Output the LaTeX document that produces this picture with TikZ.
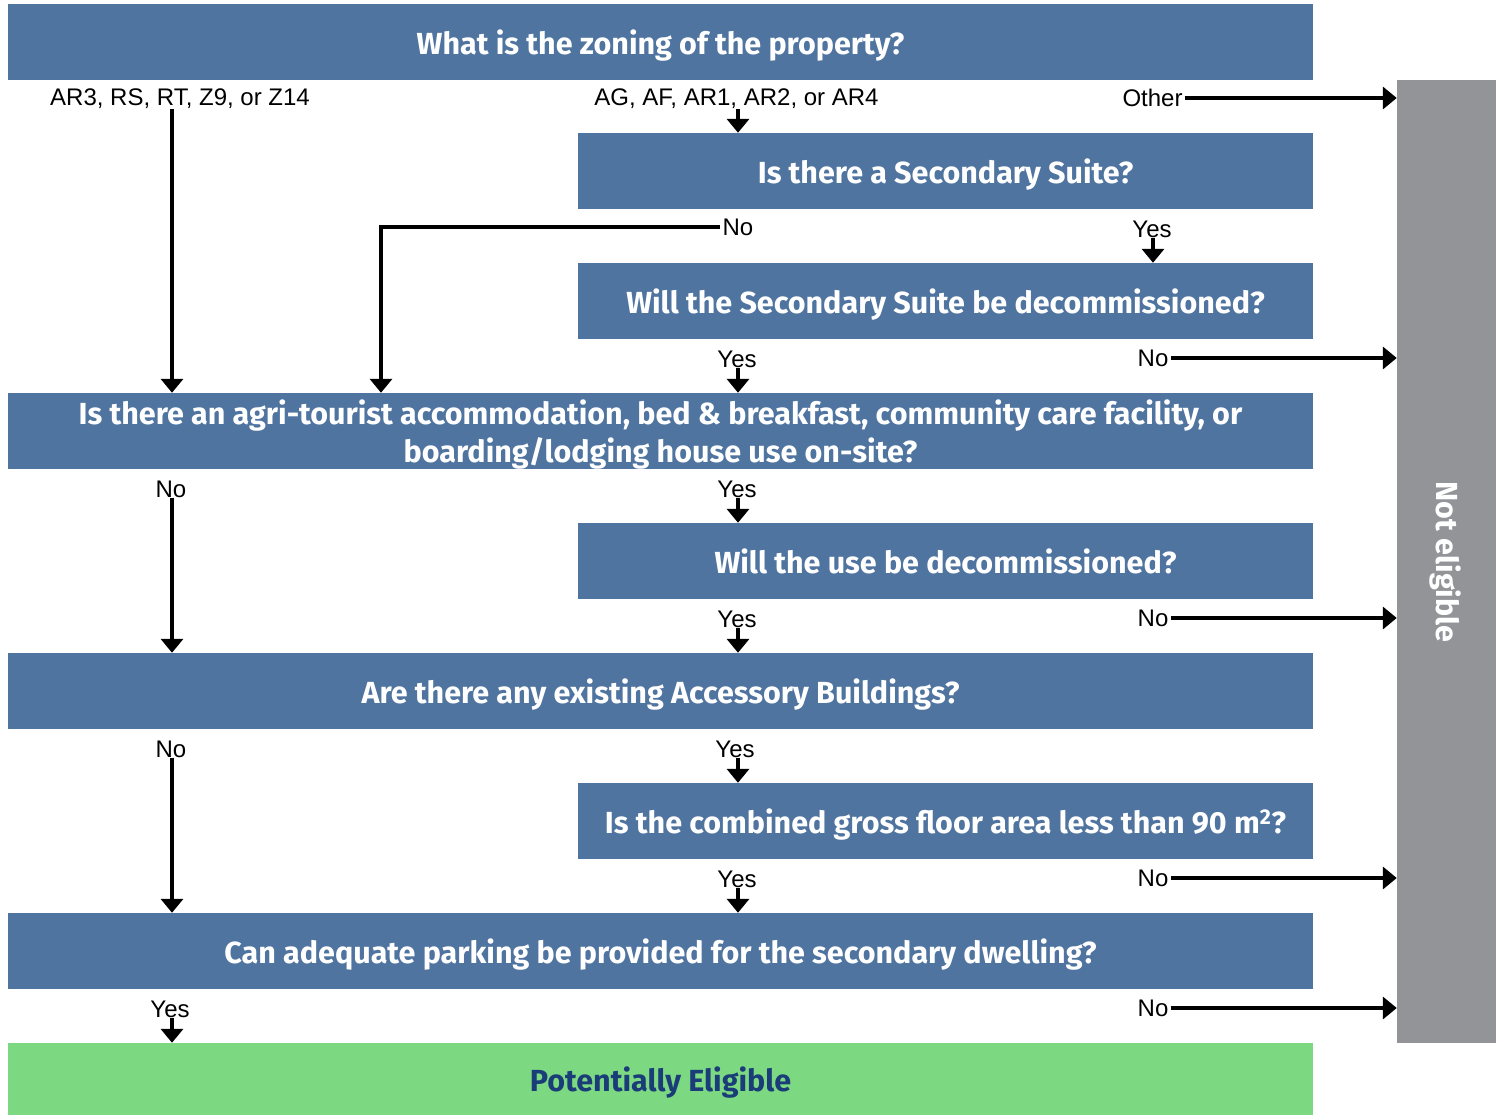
\documentclass[tikz,border=0pt]{standalone}
\usepackage{fontspec}
\setmainfont{Liberation Sans}
\newfontfamily\bfam{Fira Sans}
\usetikzlibrary{arrows.meta}
\definecolor{qblue}{HTML}{4F74A0}
\definecolor{ngray}{HTML}{939498}
\definecolor{pgreen}{HTML}{7CD982}
\definecolor{dblue}{HTML}{1A3C78}
\tikzset{
  qbox/.style={fill=qblue, draw=none, text=white, inner sep=0pt, align=center,
    font=\bfam\bfseries\fontsize{30.5}{38}\selectfont, text depth=0pt},
  longbox/.style={qbox, minimum width=1305pt, minimum height=76pt},
  shortbox/.style={qbox, minimum width=735pt, minimum height=76pt},
  lbl/.style={font=\fontsize{24}{28}\selectfont, inner ysep=0pt, inner xsep=2pt},
  arr/.style={line width=4pt, -{Triangle[width=22pt,length=14pt]}},
}
\begin{document}
\begin{tikzpicture}[x=1pt,y=-1pt]
\useasboundingbox (0,0) rectangle (1501,1115);
% boxes
\node[longbox]  (q1) at (660.5,42)  {What is the zoning of the property?};
\node[shortbox] (q2) at (945.5,171) {Is there a Secondary Suite?};
\node[shortbox] (q3) at (945.5,301) {Will the Secondary Suite be decommissioned?};
\node[longbox]  (q4) at (660.5,431) {Is there an agri-tourist accommodation, bed \& breakfast, community care facility, or\\boarding/lodging house use on-site?};
\node[shortbox] (q5) at (945.5,561) {Will the use be decommissioned?};
\node[longbox]  (q6) at (660.5,691) {Are there any existing Accessory Buildings?};
\node[shortbox] (q7) at (945.5,821) {Is the combined gross floor area less than 90 m\textsuperscript{2}?};
\node[longbox]  (q8) at (660.5,951) {Can adequate parking be provided for the secondary dwelling?};
\node[longbox, fill=pgreen, text=dblue, minimum height=72pt, text depth=-3pt] (ok) at (660.5,1079) {Potentially Eligible};
\node[qbox, fill=ngray, minimum width=99pt, minimum height=963pt] (ne) at (1446.5,561.5) {};
\node[text=white, font=\bfam\bfseries\fontsize{30.5}{34}\selectfont, rotate=-90] (net) at (1445,562) {Not eligible};
% labels
\node[lbl] (lAR3) at (180,99) {AR3, RS, RT, Z9, or Z14};
\node[lbl] (lAG) at (736.5,99) {AG, AF, AR1, AR2, or AR4};
\node[lbl] (lOth) at (1152.5,98) {Other};
\node[lbl] (n2) at (738,227) {No};
\node[lbl] (y2) at (1152,229) {Yes};
\node[lbl] (y3) at (737,359) {Yes};
\node[lbl] (n3) at (1153,358) {No};
\node[lbl] (n4) at (171,489) {No};
\node[lbl] (y4) at (737,489) {Yes};
\node[lbl] (y5) at (737,619) {Yes};
\node[lbl] (n5) at (1153,618) {No};
\node[lbl] (n6) at (171,749) {No};
\node[lbl] (y6) at (735,749) {Yes};
\node[lbl] (y7) at (737,879) {Yes};
\node[lbl] (n7) at (1153,878) {No};
\node[lbl] (y8) at (170,1009) {Yes};
\node[lbl] (n8) at (1153,1008) {No};
% connectors
\draw[arr] ([xshift=-8pt]lAR3.south) -- ([xshift=-488.5pt]q4.north);
\draw[arr] ([xshift=1.5pt]lAG.south) -- ([xshift=1.5pt]lAG.south |- q2.north);
\draw[arr] (lOth.east) -- (ne.west |- lOth.east);
\draw[arr] (n2.west) -| ([xshift=-279.5pt]q4.north);
\draw[arr] ([xshift=1pt]y2.south) -- ([xshift=1pt]y2.south |- q3.north);
\draw[arr] ([xshift=1pt]y3.south) -- ([xshift=1pt]y3.south |- q4.north);
\draw[arr] (n3.east) -- (ne.west |- n3.east);
\draw[arr] ([xshift=1pt]n4.south) -- ([xshift=1pt]n4.south |- q6.north);
\draw[arr] ([xshift=1pt]y4.south) -- ([xshift=1pt]y4.south |- q5.north);
\draw[arr] ([xshift=1pt]y5.south) -- ([xshift=1pt]y5.south |- q6.north);
\draw[arr] (n5.east) -- (ne.west |- n5.east);
\draw[arr] ([xshift=1pt]n6.south) -- ([xshift=1pt]n6.south |- q8.north);
\draw[arr] ([xshift=3pt]y6.south) -- ([xshift=3pt]y6.south |- q7.north);
\draw[arr] ([xshift=1pt]y7.south) -- ([xshift=1pt]y7.south |- q8.north);
\draw[arr] (n7.east) -- (ne.west |- n7.east);
\draw[arr] ([xshift=2pt]y8.south) -- ([xshift=2pt]y8.south |- ok.north);
\draw[arr] (n8.east) -- (ne.west |- n8.east);
\end{tikzpicture}
\end{document}
